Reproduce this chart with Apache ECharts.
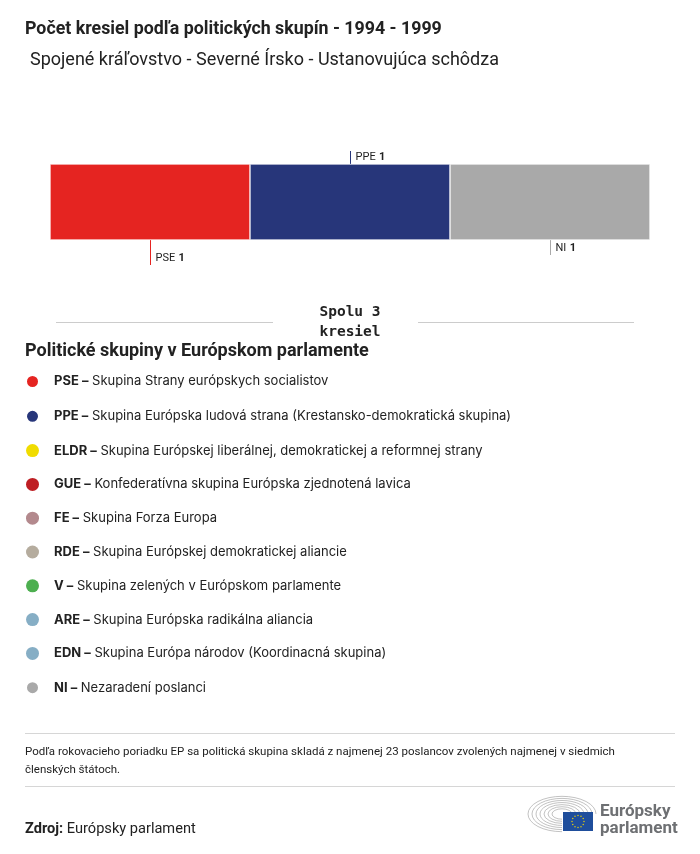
<!DOCTYPE html>
<html><head><meta charset="utf-8">
<script src="https://cdn.jsdelivr.net/npm/echarts@6/dist/echarts.min.js"></script>
<style>html,body{margin:0;padding:0;background:#fff}#c{width:700px;height:854px}</style>
</head><body><div id="c"></div>
<script>
// ---- data ----
const groupCodes = ['PSE','PPE','ELDR','GUE','FE','RDE','V','ARE','EDN','NI'];
const groupNames = [
  'Skupina Strany európskych socialistov',
  'Skupina Európska ludová strana (Krestansko-demokratická skupina)',
  'Skupina Európskej liberálnej, demokratickej a reformnej strany',
  'Konfederatívna skupina Európska zjednotená lavica',
  'Skupina Forza Europa',
  'Skupina Európskej demokratickej aliancie',
  'Skupina zelených v Európskom parlamente',
  'Skupina Európska radikálna aliancia',
  'Skupina Európa národov (Koordinacná skupina)',
  'Nezaradení poslanci'
];
const groupColors = ['#E52421','#27367A','#F0DC00','#BE1E23','#B3898D','#B5AC9E','#4DAF50','#86AEC5','#86AEC5','#A9A9A9'];
const seats = [1,1,0,0,0,0,0,0,0,1];
const region = ['Spojené kráľovstvo - Severné Írsko'];
const totalSeats = seats.reduce((a,b)=>a+b,0);

const titleText = 'Počet kresiel podľa politických skupín - 1994 - 1999';
const subtitleText = 'Spojené kráľovstvo - Severné Írsko - Ustanovujúca schôdza';
const legendTitle = 'Politické skupiny v Európskom parlamente';
const noteText = 'Podľa rokovacieho poriadku EP sa politická skupina skladá z najmenej 23 poslancov zvolených najmenej v siedmich\nčlenských štátoch.';

// label layout (style only)
const labelPlace = {PSE:{dir:'down',len:25}, PPE:{dir:'up',len:13}, NI:{dir:'down',len:15}};

const chart = echarts.init(document.getElementById('c'), null, {renderer:'canvas'});

const series = groupCodes.map((code,i)=>({
  name: code,
  type: 'bar',
  stack: 'seats',
  barWidth: '100%',
  data: [seats[i]],
  itemStyle: {color: groupColors[i], borderColor:'#fff', borderWidth: seats[i] > 0 ? 0.6 : 0},
  emphasis: {disabled: true},
  silent: true
}));

const nameMap = {};
groupCodes.forEach((c,i)=>nameMap[c]=groupNames[i]);

const option = {
  animation: false,
  backgroundColor: '#fff',
  title: [
    {text: titleText, left: 25, top: 21, padding: 0, textStyle:{fontFamily:'Roboto', fontWeight:'bold', fontSize:17.8, color:'#222'}},
    {text: subtitleText, left: 30, top: 51, padding: 0, textStyle:{fontFamily:'Roboto', fontWeight:'normal', fontSize:18, color:'#222'}},
    {text: legendTitle, left: 25, top: 342, padding: 0, textStyle:{fontFamily:'Roboto', fontWeight:'bold', fontSize:18, color:'#222'}}
  ],
  grid: {left: 50, right: 50, top: 164, height: 76, containLabel: false},
  xAxis: {type:'value', min:0, max: totalSeats, show:false},
  yAxis: {type:'category', data: region, show:false},
  legend: {
    orient: 'vertical', left: 25, top: 374, itemGap: 19.8, padding: 0,
    icon: 'circle', itemWidth: 13, itemHeight: 13,
    selectedMode: false,
    data: groupCodes,
    formatter: n => '{b|' + n + ' –} ' + nameMap[n],
    textStyle: {fontFamily:'Inter', fontSize:13, color:'#222', padding:[0,0,0,10], lineHeight:14,
      rich: {b:{fontFamily:'Inter', fontWeight:'bold', fontSize:13, color:'#222', lineHeight:14}}}
  },
  series: series
};
chart.setOption(option);

// ---- decorations using library scales ----
const g = [];
const gridRect = chart.getModel().getComponent('grid').coordinateSystem.getRect();
const barTop = gridRect.y, barBottom = gridRect.y + gridRect.height;
let cum = 0;
groupCodes.forEach((code,i)=>{
  if (seats[i] > 0) {
    const mid = cum + seats[i]/2;
    const px = Math.round(chart.convertToPixel({xAxisIndex:0}, mid)) + 0.5;
    const p = labelPlace[code];
    let y1, y2, ty;
    if (p.dir === 'down') { y1 = barBottom; y2 = barBottom + p.len; ty = y2 - 7; }
    else { y1 = barTop - p.len; y2 = barTop; ty = y1 + 6; }
    g.push({type:'line', shape:{x1:px,y1:y1,x2:px,y2:y2}, style:{stroke: groupColors[i], lineWidth:1}, silent:true});
    g.push({type:'text', x: px + 5, y: ty, style:{text: '{n|' + code + '} {v|' + seats[i] + '}', verticalAlign:'middle',
      rich:{n:{fontFamily:'Roboto', fontSize:11, fill:'#222'}, v:{fontFamily:'Roboto', fontSize:11, fontWeight:'bold', fill:'#222'}}}, silent:true});
  }
  cum += seats[i];
});

// total
g.push({type:'line', shape:{x1:56,y1:322.5,x2:273,y2:322.5}, style:{stroke:'#ccc', lineWidth:1}});
g.push({type:'line', shape:{x1:418,y1:322.5,x2:634,y2:322.5}, style:{stroke:'#ccc', lineWidth:1}});
g.push({type:'text', x:350, y:302, style:{text:'Spolu ' + totalSeats + '\nkresiel', align:'center', fontFamily:'DejaVu Sans Mono', fontWeight:'bold', fontSize:14.5, lineHeight:20, fill:'#222'}});

// footer
g.push({type:'line', shape:{x1:25,y1:733.5,x2:675,y2:733.5}, style:{stroke:'#d6d6d6', lineWidth:1}});
g.push({type:'text', x:25, y:743, style:{text: noteText, fontFamily:'Roboto', fontSize:11.5, lineHeight:18, fill:'#222'}});
g.push({type:'line', shape:{x1:25,y1:786.5,x2:675,y2:786.5}, style:{stroke:'#d6d6d6', lineWidth:1}});
g.push({type:'text', x:25, y:829, style:{text:'{b|Zdroj:} Európsky parlament', verticalAlign:'middle', fontFamily:'Roboto', fontSize:14.6, fill:'#222',
  rich:{b:{fontFamily:'Roboto', fontWeight:'bold', fontSize:14.6, fill:'#222'}}}});

// logo
for (let k=0;k<7;k++){
  g.push({type:'arc', x:562, y:814, scaleY:0.52, shape:{cx:0, cy:0, r:34 - k*4, startAngle:Math.PI*0.5, endAngle:Math.PI*2}, style:{stroke:'#a5a5a5', lineWidth:0.9, fill:null}});
}
g.push({type:'rect', shape:{x:563, y:812, width:30, height:19}, style:{fill:'#1F4E9C'}});
for (let s=0;s<12;s++){
  const a = s*Math.PI/6;
  g.push({type:'circle', shape:{cx:578 + 6*Math.cos(a), cy:821.5 + 6*Math.sin(a), r:0.7}, style:{fill:'#F5D800'}});
}
g.push({type:'text', x:600, y:803, style:{text:'Európsky\nparlament', fontFamily:'Roboto', fontWeight:'bold', fontSize:17, lineHeight:17, fill:'#6E7073'}});

chart.setOption({graphic: g});
</script></body></html>
